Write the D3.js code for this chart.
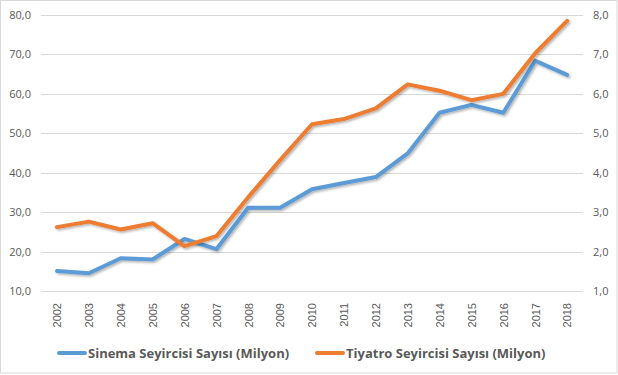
<!DOCTYPE html>
<html>
<head>
<meta charset="utf-8">
<script src="https://cdn.jsdelivr.net/npm/d3@7"></script>
<style>
  body { margin: 0; background: #fff; }
  text { font-family: "Open Sans", "Liberation Sans", sans-serif; fill: #595959; }
</style>
</head>
<body>
<div id="wrapper"></div>
<script>
const years = ["2002","2003","2004","2005","2006","2007","2008","2009","2010","2011","2012","2013","2014","2015","2016","2017","2018"];
const sinema = [15.1, 14.5, 18.3, 18.0, 23.2, 20.6, 31.1, 31.1, 35.8, 37.4, 38.9, 44.9, 55.2, 57.2, 55.2, 68.4, 64.8];
const tiyatro = [2.62, 2.76, 2.56, 2.72, 2.14, 2.39, 3.38, 4.32, 5.23, 5.36, 5.63, 6.24, 6.08, 5.84, 6.00, 7.03, 7.85];
const leftTicks = [10, 20, 30, 40, 50, 60, 70, 80];
const rightTicks = [1, 2, 3, 4, 5, 6, 7, 8];
const seriesNames = ["Sinema Seyircisi Sayısı (Milyon)", "Tiyatro Seyircisi Sayısı (Milyon)"];
const colors = ["#5b9bd5", "#ed7d31"];

function drawChart() {
    let dimensions = {
        width: 618,
        height: 375,
        margins: { top: 15, right: 35, bottom: 84, left: 41 }
    };
    dimensions.boundedWidth = dimensions.width - dimensions.margins.left - dimensions.margins.right;
    dimensions.boundedHeight = dimensions.height - dimensions.margins.top - dimensions.margins.bottom;

    const wrapper = d3.select('#wrapper')
        .append('svg')
        .attr('width', dimensions.width)
        .attr('height', dimensions.height);

    wrapper.append('rect')
        .attr('x', 0.5).attr('y', 0.5)
        .attr('width', dimensions.width - 1.5)
        .attr('height', dimensions.height - 2.5)
        .attr('fill', '#fff')
        .attr('stroke', '#d9d9d9');

    const defs = wrapper.append('defs');
    const filter = defs.append('filter').attr('id', 'shadow')
        .attr('x', '-5%').attr('y', '-5%').attr('width', '110%').attr('height', '120%');
    filter.append('feDropShadow')
        .attr('dx', 1.5).attr('dy', 1.5).attr('stdDeviation', 1.2)
        .attr('flood-color', '#000').attr('flood-opacity', 0.3);

    const bounds = wrapper.append('g')
        .attr('transform', `translate(${dimensions.margins.left},${dimensions.margins.top})`);

    const xScale = d3.scalePoint()
        .domain(years)
        .range([0, dimensions.boundedWidth])
        .padding(0.5);

    const yLeft = d3.scaleLinear()
        .domain([10, 80])
        .range([dimensions.boundedHeight, 0]);

    const yRight = d3.scaleLinear()
        .domain([1, 8])
        .range([dimensions.boundedHeight, 0]);

    // gridlines
    bounds.append('g')
        .selectAll('line')
        .data(leftTicks)
        .join('line')
        .attr('x1', 0)
        .attr('x2', dimensions.boundedWidth)
        .attr('y1', d => Math.round(yLeft(d)) + 0.5)
        .attr('y2', d => Math.round(yLeft(d)) + 0.5)
        .attr('stroke', '#d9d9d9')
        .attr('stroke-width', 1);

    // left axis
    const yAxisLeft = bounds.append('g')
        .call(d3.axisLeft(yLeft).tickValues(leftTicks).tickSize(0).tickPadding(10)
            .tickFormat(d => d3.format('.1f')(d).replace('.', ',')));
    yAxisLeft.select('.domain').remove();
    yAxisLeft.selectAll('text').style('font-size', '11px').attr('fill', '#595959');

    // right axis
    const yAxisRight = bounds.append('g')
        .attr('transform', `translate(${dimensions.boundedWidth},0)`)
        .call(d3.axisRight(yRight).tickValues(rightTicks).tickSize(0).tickPadding(10)
            .tickFormat(d => d3.format('.1f')(d).replace('.', ',')));
    yAxisRight.select('.domain').remove();
    yAxisRight.selectAll('text').style('font-size', '11px').attr('fill', '#595959');

    // x axis
    const xAxis = bounds.append('g')
        .attr('transform', `translate(0,${dimensions.boundedHeight})`)
        .call(d3.axisBottom(xScale).tickSize(0).tickPadding(0));
    xAxis.select('.domain').remove();
    xAxis.selectAll('text')
        .style('font-size', '11px')
        .style('font-family', '"Liberation Sans", Arial, sans-serif')
        .attr('fill', '#595959')
        .attr('text-anchor', 'end')
        .attr('dy', '0.35em')
        .attr('transform', 'translate(0,12) rotate(-90)')
        .attr('y', 0)
        .attr('x', 0);

    const sinemaLine = d3.line()
        .x((d, i) => xScale(years[i]))
        .y(d => yLeft(d));

    const tiyatroLine = d3.line()
        .x((d, i) => xScale(years[i]))
        .y(d => yRight(d));

    bounds.append('path')
        .attr('d', sinemaLine(sinema))
        .attr('fill', 'none')
        .attr('stroke', colors[0])
        .attr('stroke-width', 4)
        .attr('stroke-linejoin', 'round')
        .attr('stroke-linecap', 'round')
        .attr('filter', 'url(#shadow)');

    bounds.append('path')
        .attr('d', tiyatroLine(tiyatro))
        .attr('fill', 'none')
        .attr('stroke', colors[1])
        .attr('stroke-width', 4)
        .attr('stroke-linejoin', 'round')
        .attr('stroke-linecap', 'round')
        .attr('filter', 'url(#shadow)');

    // legend
    const legendX = [59, 317];
    const legend = wrapper.append('g')
        .selectAll('g')
        .data(seriesNames)
        .join('g')
        .attr('transform', (d, i) => `translate(${legendX[i]},353)`);

    legend.append('line')
        .attr('x1', 0).attr('x2', 26)
        .attr('y1', 0).attr('y2', 0)
        .attr('stroke', (d, i) => colors[i])
        .attr('stroke-width', 4)
        .attr('stroke-linecap', 'round');

    legend.append('text')
        .attr('x', 29)
        .attr('y', 0)
        .attr('dy', '0.35em')
        .style('font-size', '13px')
        .style('font-weight', 'bold')
        .text(d => d);
}

drawChart();
</script>
</body>
</html>
